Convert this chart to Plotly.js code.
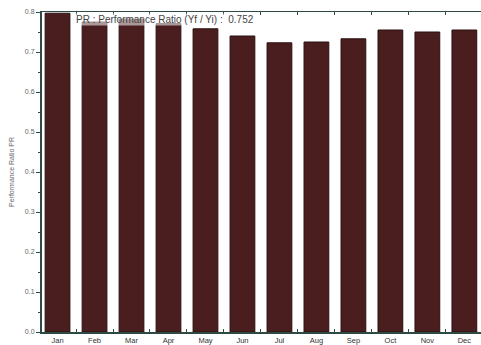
<!DOCTYPE html>
<html><head><meta charset="utf-8">
<script src="https://cdn.plot.ly/plotly-3.0.1.min.js"></script>
<style>body{margin:0;background:#fff}#c{width:481px;height:345px}</style>
</head><body><div id="c"></div>
<script>
const months = ["Jan","Feb","Mar","Apr","May","Jun","Jul","Aug","Sep","Oct","Nov","Dec"];
const pr = [0.797,0.775,0.782,0.771,0.758,0.740,0.723,0.725,0.733,0.755,0.750,0.755];
const legendText = "PR : Performance Ratio (Yf / Yi) :  0.752";
const yTicks = [0,0.1,0.2,0.3,0.4,0.5,0.6,0.7,0.8];
const yTickLabels = ["0.0","0.1","0.2","0.3","0.4","0.5","0.6","0.7","0.8"];

Plotly.newPlot("c", [{
  type: "bar", x: months, y: pr,
  marker: {color: "#4a1e1f", line: {color: "#2a1010", width: 1}},
  width: 0.67
}], {
  width: 481, height: 345,
  margin: {l: 42, r: 0, t: 12, b: 13},
  paper_bgcolor: "#fff", plot_bgcolor: "#fff",
  showlegend: false,
  font: {family: "Liberation Sans, Arial, sans-serif", size: 7, color: "#555"},
  xaxis: {
    range: [-0.42, 11.45], showgrid: false, zeroline: false,
    showline: true, linecolor: "#2f4a44", linewidth: 1.5, mirror: "allticks",
    ticks: "inside", tickson: "boundaries", ticklen: 3, tickcolor: "#2f4a44",
    tickfont: {size: 7.5, color: "#333"}, ticklabelstandoff: 0
  },
  yaxis: {
    range: [0, 0.8], tickvals: yTicks, ticktext: yTickLabels,
    showgrid: false, zeroline: false, showline: true, linecolor: "#2f4a44", linewidth: 2,
    ticks: "outside", ticklen: 4, tickcolor: "#2f4a44",
    minor: {dtick: 0.05, ticks: "outside", ticklen: 2, tickcolor: "#2f4a44"},
    tickfont: {size: 7, color: "#666"},
    title: {text: "Performance Ratio PR", font: {size: 7, color: "#666"}, standoff: 9}
  },
  annotations: [{
    xref: "paper", yref: "paper", x: 0.075, y: 0.997, xanchor: "left", yanchor: "top",
    text: legendText, showarrow: false, font: {size: 10, color: "#444"},
    bgcolor: "rgba(255,255,255,0.55)", borderpad: 0
  }]
}, {displayModeBar: false, staticPlot: true});
</script></body></html>
